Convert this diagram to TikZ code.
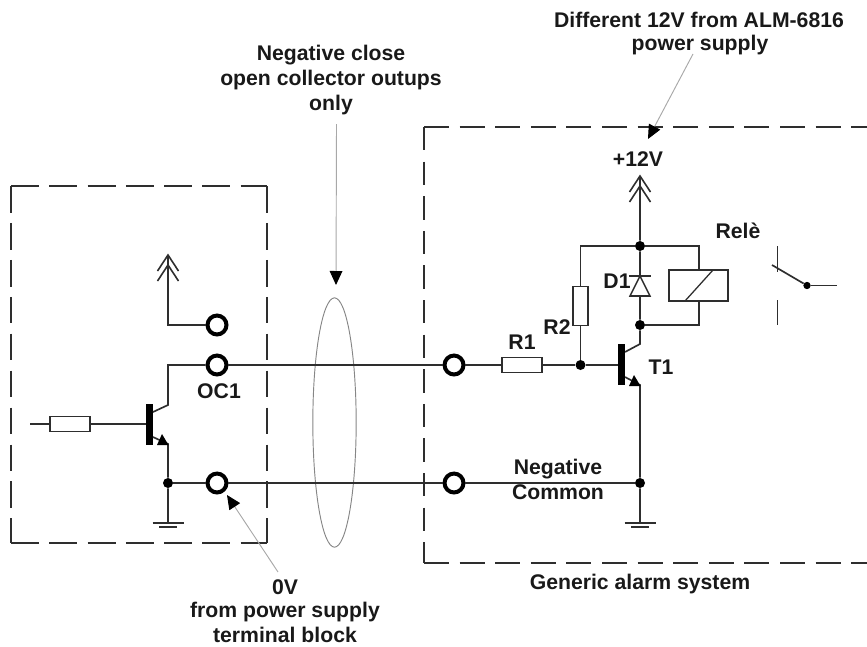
\documentclass[tikz,border=0pt]{standalone}
\usepackage{fontspec}
\setmainfont{Liberation Sans}
\usetikzlibrary{arrows.meta,calc,shapes.geometric}
\definecolor{ink}{HTML}{2E2E2E}
\definecolor{pointer}{HTML}{A8A8A8}
\tikzset{
  wire/.style={draw=ink,line width=1.25pt},
  frameh/.style={draw=ink,line width=1.15pt,dash pattern=on 21pt off 7.7pt},
  framev/.style={draw=ink,line width=1.15pt,dash pattern=on 20pt off 7.7pt},
  frameh2/.style={draw=ink,line width=1.15pt,dash pattern=on 18.8pt off 7.9pt},
  framev2/.style={draw=ink,line width=1.15pt,dash pattern=on 17.6pt off 8.35pt},
  term/.style={circle,draw=black,fill=white,line width=3pt,minimum size=14.2pt,inner sep=0pt},
  junction/.style={circle,fill=black,minimum size=7.5pt,inner sep=0pt},
  resh/.style={rectangle,draw=ink,fill=white,line width=1.1pt,minimum width=30pt,minimum height=11pt,inner sep=0pt},
  resv/.style={rectangle,draw=ink,fill=white,line width=1.1pt,minimum width=11pt,minimum height=29.5pt,inner sep=0pt},
  coil/.style={rectangle,draw=ink,fill=white,line width=1.2pt,minimum width=44.5pt,minimum height=23.5pt,inner sep=0pt},
  lab/.style={font=\fontsize{15.9}{18}\selectfont\bfseries,text=black!90,inner sep=0pt,align=center},
  pointerline/.style={draw=pointer,line width=0.7pt},
  ellip/.style={ellipse,draw=pointer!80!black,line width=0.7pt,minimum width=32.5pt,minimum height=187pt,inner sep=0pt},
  pics/chev/.style={code={
    \draw[ink,line width=1.2pt] (-10.5,16)--(0,0)--(10.5,16);
    \draw[ink,line width=1.2pt] (-10.5,26)--(0,10)--(10.5,26);
  }},
  pics/gnd/.style={code={
    \draw[ink,line width=1.1pt] (-15.5,0)--(15.5,0);
    \draw[ink,line width=1.5pt] (-9,4)--(9,4);
  }},
}
\begin{document}
\begin{tikzpicture}[x=0.75pt,y=-0.75pt]
\useasboundingbox (0,0) rectangle (867,646);
% frames
\draw[frameh] (11,186)--(267,186);
\draw[frameh] (11,543)--(267,543);
\draw[framev] (11,186)--(11,543);
\draw[framev] (267,186)--(267,543);
\draw[frameh2] (424,127)--(867,127);
\draw[frameh2] (424,563)--(867,563);
\draw[framev2] (424,127)--(424,563);
% ellipse
\node[ellip] (bundle) at (334.5,422.5) {};
% cross wires
\coordinate (m2) at (217,365);
\coordinate (m3) at (217,483);
% left side
\node[term] (t1) at (217,325) {};
\node[term] (t2) at (217,365) {};
\node[term] (t3) at (217,483) {};
\node[term] (t4) at (454,365) {};
\node[term] (t5) at (454,483) {};
\node[junction] (j1) at (168,483) {};
\coordinate (vcc1) at (168,255);
\coordinate (vcc1c) at (168,325);
\coordinate (c1) at (168,365);
\coordinate (c1b) at (168,405);
\coordinate (c1a) at (153,412);
\coordinate (e1a) at (153,437);
\coordinate (e1) at (168,444);
\coordinate (b1) at (146,424);
\coordinate (in1) at (30,424);
\coordinate (g1) at (168,523);
\node[resh] (r0) at (70,424) {};
\fill[black] (146,404) rectangle (153,445);
\draw[wire] (t1)--(vcc1c)--(vcc1);
\path (vcc1) pic {chev};
\draw[wire] (in1)--(r0)--(b1);
\draw[wire] (t2)--(c1)--(c1b)--(c1a);
\draw[wire] (e1a)--(e1)--(j1)--(g1);
\fill[black] (168.5,445)--(157,445)--(162,434)--cycle;
\draw[wire] (j1)--(t3);
\path (g1) pic {gnd};
\draw[wire] (t2)--(t4);
\draw[wire] (t3)--(t5);
% right side
\node[resh] (r1) at (522,365) {};
\node[junction] (j2) at (580.5,365) {};
\node[junction] (j3) at (640,246) {};
\node[junction] (j4) at (640,325) {};
\node[junction] (j5) at (640,483) {};
\node[resv] (r2) at (580.5,306) {};
\node[coil] (k1) at (698.5,285.5) {};
\coordinate (vcc2) at (640,176);
\coordinate (jl) at (580.5,246);
\coordinate (jr) at (699,246);
\coordinate (jbr) at (699,325);
\coordinate (b2) at (618,365);
\coordinate (c2a) at (625,352);
\coordinate (c2) at (640,344);
\coordinate (e2a) at (625,377);
\coordinate (e2) at (640,385);
\coordinate (g2) at (640,523);
\draw[wire] (t4)--(r1)--(j2)--(b2);
\draw[wire] (j2)--(r2)--(jl)--(j3)--(jr)--(k1.north-|jr);
\draw[wire] (k1.south-|jr)--(jbr)--(j4);
\draw[wire] (vcc2)--(j3)--(j4)--(c2)--(c2a);
\path (vcc2) pic {chev};
\draw[wire] (e2a)--(e2)--(j5)--(g2);
\draw[wire] (t5)--(j5);
\fill[black] (618,344) rectangle (625,385);
\fill[black] (640.5,386)--(629,386)--(634,375)--cycle;
\path (g2) pic {gnd};
% diode
\draw[ink,line width=1.15pt,fill=white] (630,296)--(650,296)--(640,276)--cycle;
\draw[ink,line width=1.15pt] (629,276)--(651,276);
% coil slash
\draw[ink,line width=0.95pt] (685,301)--(713,270);
% switch
\node[junction,minimum size=5.5pt] (swp) at (807,285.5) {};
\coordinate (swo) at (837,285.5);
\coordinate (swl) at (772,265);
\draw[wire] (swl)--(swp);
\draw[ink,line width=0.8pt] (swp)--(swo);
\draw[ink,line width=1pt] (777.5,246)--(777.5,272);
\draw[ink,line width=1pt] (777.5,300)--(777.5,325);
% labels
\node[lab] (l1) at (331,55) {Negative close};
\node[lab] (l2) at (331,80) {open collector outups};
\node[lab] (l3) at (331,105) {only};
\node[lab] (l4) at (699,20) {Different 12V from ALM-6816};
\node[lab] (l5) at (700,45) {power supply};
\node[lab] at (638,159) {+12V};
\node[lab] at (738,231) {Relè};
\node[lab] at (617,281) {D1};
\node[lab] at (557,327) {R2};
\node[lab] at (661,367) {T1};
\node[lab] at (522,342) {R1};
\node[lab] at (219,391) {OC1};
\node[lab] at (558,469) {Negative};
\node[lab] at (558,492) {Common};
\node[lab] at (640,584) {Generic alarm system};
\node[lab] (l6) at (285,587) {0V};
\node[lab] at (285,612) {from power supply};
\node[lab] at (285,635) {terminal block};
% pointers
\coordinate (p1) at (336.5,124);
\coordinate (p1t) at (336,285);
\coordinate (p2) at (693,54);
\coordinate (p2t) at (648,139);
\coordinate (p3) at (278,572);
\coordinate (p3t) at (227,495);
\draw[pointerline,-{Triangle[length=10.5pt,width=9.5pt,color=black]}] (p1)--(p1t);
\draw[pointerline,-{Triangle[length=10.5pt,width=9.5pt,color=black]}] (p2)--(p2t);
\draw[pointerline,-{Triangle[length=10.5pt,width=9.5pt,color=black]}] (p3)--(p3t);
\end{tikzpicture}
\end{document}
